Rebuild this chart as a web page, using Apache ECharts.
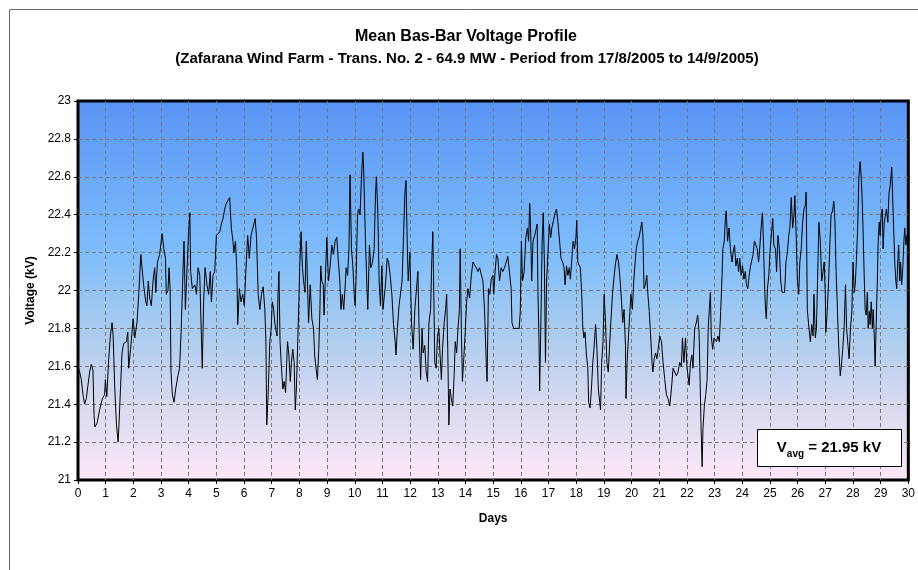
<!DOCTYPE html>
<html>
<head>
<meta charset="utf-8">
<script src="https://cdn.jsdelivr.net/npm/echarts@6/dist/echarts.min.js"></script>
<style>
  html, body { margin: 0; padding: 0; background: #fff; }
  #chart { width: 918px; height: 570px; }
</style>
</head>
<body>
<div id="chart"></div>
<script>
// readings: day of period, bus-bar voltage (kV)
var days = [
  0.00,0.06,0.12,0.18,0.24,0.30,0.36,0.42,0.48,0.54,0.58,0.61,0.69,0.78,0.88,0.96,0.99,1.04,1.11,1.17,
  1.23,1.27,1.33,1.39,1.45,1.48,1.54,1.59,1.65,1.75,1.80,1.83,1.90,1.99,2.05,2.13,2.20,2.27,2.33,2.37,
  2.45,2.49,2.54,2.59,2.65,2.71,2.77,2.81,2.87,2.95,3.04,3.10,3.16,3.19,3.25,3.29,3.33,3.36,3.41,3.47,
  3.53,3.61,3.67,3.73,3.80,3.83,3.88,3.94,3.99,4.04,4.07,4.13,4.22,4.28,4.34,4.40,4.45,4.49,4.54,4.59,
  4.66,4.72,4.78,4.82,4.88,4.94,5.00,
  5.06,5.12,5.18,5.24,5.30,5.36,5.42,5.48,5.54,5.60,5.63,5.69,5.74,5.77,5.83,5.89,5.95,6.01,6.07,6.13,
  6.19,6.25,6.31,6.37,6.40,6.45,6.51,6.57,6.63,6.69,6.75,6.79,6.82,6.87,6.93,6.98,7.02,7.07,7.11,7.14,
  7.19,7.23,7.26,7.30,7.36,7.40,7.45,7.50,7.54,7.57,7.62,7.67,7.71,7.76,7.81,7.85,7.89,7.94,7.98,8.01,
  8.06,8.11,8.15,8.20,8.25,8.29,8.33,8.39,8.45,8.51,8.55,8.60,8.65,8.70,8.74,8.77,8.81,8.86,8.89,8.94,
  8.99,9.05,9.11,9.17,9.23,9.29,9.35,9.40,9.46,9.50,9.55,9.60,9.64,9.69,9.74,9.79,9.83,9.88,9.93,9.98,
  10.01,10.05,10.10,10.14,10.19,10.24,10.29,10.32,
  10.38,10.44,10.47,10.53,10.58,10.64,10.70,10.75,10.78,10.83,10.88,10.93,10.98,11.02,11.07,11.12,11.17,11.22,11.28,11.34,
  11.40,11.46,11.49,11.54,11.60,11.65,11.71,11.77,11.81,11.85,11.90,11.93,11.99,12.05,12.11,12.17,12.23,12.28,12.33,12.38,
  12.43,12.47,12.53,12.58,12.63,12.68,12.74,12.78,12.82,12.86,12.89,12.94,12.99,13.04,13.08,13.13,13.17,13.23,13.28,13.32,
  13.36,13.40,13.44,13.49,13.54,13.59,13.63,13.68,13.73,13.78,13.81,13.85,13.89,13.93,13.99,14.04,14.09,14.15,14.21,14.27,
  14.33,14.39,14.45,14.51,14.57,14.63,14.69,14.75,14.78,14.83,14.88,14.93,14.99,15.02,15.07,15.12,15.17,15.23,15.29,15.35,
  15.41,15.47,15.53,15.59,15.65,15.68,15.74,
  15.86,15.94,15.98,16.02,16.06,16.12,16.18,16.24,16.28,16.32,16.36,16.39,16.44,16.50,16.55,16.59,16.62,16.66,16.68,16.72,
  16.77,16.81,16.85,16.89,16.93,16.98,17.03,17.08,17.12,17.18,17.24,17.29,17.34,17.40,17.45,17.51,17.56,17.60,17.65,17.70,
  17.75,17.79,17.84,17.89,17.94,17.99,18.02,18.06,18.11,18.15,18.20,18.24,18.28,18.32,18.37,18.42,18.45,18.50,18.55,18.60,
  18.64,18.70,18.75,18.80,18.85,18.88,18.92,18.97,19.01,19.06,19.11,19.16,19.20,19.25,19.31,19.36,19.41,19.47,19.53,19.59,
  19.64,19.68,19.73,19.78,19.80,19.84,19.89,19.94,19.98,20.03,20.08,20.13,20.17,20.22,20.27,20.32,20.37,20.41,20.45,20.50,
  20.55,20.59,20.64,20.69,20.74,20.77,20.82,20.87,20.92,20.96,
  21.02,21.08,21.14,21.20,21.26,21.32,21.38,21.44,21.50,21.56,21.62,21.68,21.74,21.80,21.84,21.89,21.95,22.00,22.04,22.08,
  22.13,22.18,22.22,22.28,22.34,22.39,22.44,22.47,22.51,22.55,22.58,22.63,22.68,22.73,22.77,22.81,22.85,22.88,22.93,22.98,
  23.03,23.07,23.12,23.17,23.22,23.27,23.30,23.35,23.39,23.42,23.47,23.52,23.57,23.63,23.67,23.72,23.77,23.82,23.87,23.91,
  23.96,24.01,24.06,24.11,24.15,24.20,24.25,24.30,24.35,24.39,24.44,24.49,24.54,24.59,24.64,24.68,24.73,24.77,24.80,24.84,
  24.87,24.91,24.96,25.00,25.05,25.10,25.14,25.20,25.24,25.29,25.34,25.39,25.44,25.48,25.53,25.58,25.63,25.68,25.72,25.77,
  25.82,25.87,25.90,25.94,25.99,26.04,26.08,26.13,26.18,26.23,26.28,26.31,
  26.35,26.41,26.46,26.51,26.56,26.59,26.64,26.68,26.73,26.77,26.82,26.87,26.92,26.96,27.00,27.02,27.07,27.12,27.17,27.21,
  27.26,27.31,27.35,27.39,27.43,27.46,27.50,27.54,27.58,27.63,27.68,27.73,27.77,27.82,27.86,27.91,27.96,28.00,28.05,28.09,
  28.12,28.17,28.21,28.26,28.30,28.34,28.37,28.41,28.44,28.48,28.52,28.55,28.59,28.62,28.66,28.70,28.73,28.77,28.80,28.84,
  28.88,28.91,28.95,28.98,29.02,29.06,29.09,29.13,29.16,29.21,29.26,29.30,29.35,29.40,29.43,29.47,29.51,29.55,29.58,29.62,
  29.65,29.69,29.72,29.76,29.80,29.84,29.87,29.91,29.95,30.00
];
var volts = [
  21.59,21.57,21.53,21.45,21.40,21.43,21.42,21.57,21.61,21.58,21.34,21.28,21.30,21.37,21.43,21.45,21.53,21.44,21.64,21.76,
  21.83,21.76,21.48,21.29,21.20,21.29,21.50,21.67,21.72,21.73,21.78,21.59,21.69,21.85,21.75,21.83,21.99,22.19,22.19,22.03,
  21.94,21.92,22.05,21.96,21.92,22.05,22.12,21.99,22.15,22.19,22.30,22.22,22.17,21.98,22.00,22.12,22.00,21.57,21.45,21.41,
  21.48,21.55,21.59,21.80,22.13,22.26,21.90,22.12,22.29,22.41,22.10,22.01,22.03,21.98,22.12,22.08,21.80,21.59,21.94,22.12,
  22.03,21.98,22.10,21.94,22.08,22.10,22.29,
  22.30,22.31,22.35,22.38,22.43,22.46,22.47,22.49,22.33,22.26,22.20,22.26,22.10,21.82,22.01,21.94,21.98,21.92,22.12,22.29,
  22.17,22.29,22.28,22.36,22.38,22.28,21.98,21.90,21.98,22.02,21.90,21.73,21.29,21.45,21.73,21.80,21.94,21.90,21.83,21.80,
  21.76,21.99,22.10,21.73,21.57,21.48,21.52,21.46,21.62,21.73,21.66,21.52,21.62,21.69,21.62,21.37,21.48,21.73,21.94,22.12,
  22.31,22.12,22.05,21.99,22.26,22.05,21.83,22.03,21.85,21.80,21.66,21.59,21.53,21.69,21.90,22.13,22.05,22.03,21.87,22.08,
  22.28,22.05,22.13,22.24,22.19,22.26,22.28,22.17,22.05,21.90,21.98,21.90,21.99,22.12,22.08,22.22,22.61,22.22,22.13,21.98,
  21.92,22.08,22.40,22.43,22.40,22.59,22.73,22.65,
  22.29,22.01,21.90,22.24,22.12,22.15,22.22,22.51,22.60,22.43,22.05,21.92,22.13,21.90,21.89,22.05,22.17,22.15,22.08,21.98,
  21.82,21.73,21.66,21.80,21.92,21.98,22.05,22.06,22.51,22.58,22.22,22.05,22.20,21.83,21.69,21.90,21.89,22.10,21.76,21.53,
  21.80,21.67,21.71,21.57,21.52,21.83,21.90,22.15,22.31,21.94,21.62,21.59,21.76,21.80,21.66,21.53,21.69,21.83,21.90,21.98,
  21.69,21.29,21.48,21.43,21.39,21.55,21.73,21.67,21.80,21.90,22.22,21.80,21.52,21.62,21.78,21.94,22.01,21.96,22.08,22.15,
  22.16,22.12,22.10,22.12,22.13,22.05,21.89,21.62,21.52,22.01,21.98,22.06,22.08,21.98,22.10,22.19,22.17,22.05,22.12,22.10,
  22.12,22.15,22.18,22.17,22.01,21.83,21.80,
  21.80,21.80,21.89,22.26,22.05,22.10,22.28,22.33,22.26,22.46,22.29,22.05,22.26,22.29,22.28,22.35,21.98,21.71,21.47,21.80,
  22.26,22.41,22.15,21.62,22.05,22.20,22.35,22.28,22.33,22.37,22.41,22.43,22.36,22.26,22.17,22.15,22.12,22.03,22.13,22.08,
  22.12,22.06,22.07,22.26,22.22,22.28,22.37,22.15,22.15,22.12,21.98,21.80,21.75,21.78,21.66,21.59,21.41,21.38,21.48,21.62,
  21.69,21.82,21.69,21.48,21.41,21.37,21.62,21.73,21.98,21.83,21.62,21.57,21.69,21.83,21.98,22.06,22.13,22.19,22.15,22.05,
  21.94,21.83,21.90,21.71,21.43,21.62,21.76,21.89,21.98,21.90,22.05,22.15,22.22,22.26,22.28,22.29,22.36,22.29,22.01,22.03,
  22.08,21.98,21.89,21.76,21.62,21.57,21.64,21.67,21.64,21.69,
  21.76,21.73,21.62,21.53,21.45,21.43,21.39,21.48,21.59,21.60,21.55,21.57,21.62,21.60,21.75,21.62,21.75,21.60,21.55,21.50,
  21.62,21.66,21.59,21.80,21.83,21.87,21.78,21.57,21.29,21.07,21.27,21.39,21.45,21.53,21.80,21.90,21.99,21.76,21.69,21.75,
  21.76,21.73,21.76,21.73,21.89,22.08,22.22,22.26,22.38,22.42,22.26,22.33,22.22,22.15,22.20,22.24,22.13,22.17,22.10,22.17,
  22.08,22.13,22.06,22.10,22.03,22.01,22.08,22.13,22.13,22.19,22.26,22.24,22.22,22.15,22.24,22.33,22.41,22.24,22.05,21.90,
  21.85,22.01,22.08,22.20,22.29,22.38,22.24,22.22,22.10,22.29,22.22,22.05,21.99,21.98,21.99,22.15,22.20,22.29,22.33,22.49,
  22.33,22.40,22.50,22.33,22.06,21.98,22.15,22.22,22.36,22.43,22.45,22.52,
  21.90,21.80,21.73,21.82,21.76,21.98,21.75,21.80,22.12,22.36,22.26,22.05,22.10,22.15,21.98,21.78,21.89,22.05,22.26,22.40,
  22.42,22.47,22.36,22.10,21.94,21.80,21.66,21.55,21.60,21.69,21.80,22.03,21.80,21.71,21.64,21.80,21.89,22.15,21.99,22.05,
  22.15,22.33,22.59,22.68,22.59,22.45,22.29,22.05,21.90,21.87,21.99,21.80,21.89,21.82,21.94,21.80,21.90,21.76,21.60,21.83,
  22.05,22.26,22.36,22.29,22.40,22.43,22.22,22.36,22.35,22.43,22.36,22.51,22.56,22.65,22.51,22.33,22.15,22.05,22.01,22.15,
  22.24,22.05,22.15,22.03,22.12,22.26,22.33,22.24,22.29,22.28
];
var titleText = 'Mean Bas-Bar Voltage Profile';
var subText = '(Zafarana Wind Farm - Trans. No. 2 - 64.9 MW - Period from 17/8/2005 to 14/9/2005)';
var avgLabel = '21.95 kV';

var data = [];
for (var i = 0; i < days.length; i++) {
    data.push([days[i], volts[i]]);
}

var chart = echarts.init(document.getElementById('chart'));
var font = 'Arial, "Liberation Sans", sans-serif';
var dashed = {show: true, showMinLine: false, showMaxLine: false,
              lineStyle: {color: '#7a7a7a', type: [4, 3], width: 1}};

var option = {
    animation: false,
    backgroundColor: '#fff',
    grid: {
        left: 78, top: 101, width: 835, height: 379,
        show: true,
        borderColor: '#000',
        borderWidth: 3,
        backgroundColor: {
            type: 'linear', x: 0, y: 0, x2: 0, y2: 1,
            colorStops: [
                {offset: 0, color: '#5894f5'},
                {offset: 0.4, color: '#7ebdfb'},
                {offset: 0.6, color: '#a8cbef'},
                {offset: 0.8, color: '#d9daf0'},
                {offset: 1, color: '#fde8f8'}
            ]
        }
    },
    xAxis: {
        type: 'value',
        min: 0, max: 30, interval: 1,
        name: 'Days',
        nameLocation: 'middle',
        nameGap: 33,
        nameTextStyle: {fontFamily: font, fontWeight: 'bold', fontSize: 12, color: '#000'},
        axisLine: {lineStyle: {color: '#000', width: 1}},
        axisTick: {show: true, length: 4, lineStyle: {color: '#000'}},
        axisLabel: {fontFamily: font, fontSize: 12, color: '#000', margin: 8},
        splitLine: dashed
    },
    yAxis: {
        type: 'value',
        min: 21, max: 23, interval: 0.2,
        name: 'Voltage (kV)',
        nameLocation: 'middle',
        nameRotate: 90,
        nameGap: 39,
        nameTextStyle: {fontFamily: font, fontWeight: 'bold', fontSize: 12, color: '#000'},
        axisLine: {show: true, lineStyle: {color: '#000', width: 1}},
        axisTick: {show: true, length: 4, lineStyle: {color: '#000'}},
        axisLabel: {fontFamily: font, fontSize: 12, color: '#000', margin: 7},
        splitLine: dashed
    },
    series: [{
        type: 'line',
        data: data,
        showSymbol: false,
        symbol: 'none',
        lineStyle: {color: '#000', width: 1},
        z: 5
    }],
    graphic: [
        {
            type: 'rect',
            shape: {x: 9.5, y: 9.5, width: 940, height: 600},
            style: {fill: 'none', stroke: '#6e6e6e', lineWidth: 1},
            silent: true
        },
        {
            type: 'text', x: 466, y: 37,
            style: {text: titleText, font: 'bold 16px ' + font, fill: '#000', textAlign: 'center', textVerticalAlign: 'middle'}
        },
        {
            type: 'text', x: 467, y: 59,
            style: {text: subText, font: 'bold 15px ' + font, fill: '#000', textAlign: 'center', textVerticalAlign: 'middle'}
        },
        {
            type: 'rect',
            shape: {x: 757.5, y: 429.5, width: 144, height: 37},
            style: {fill: '#fff', stroke: '#000', lineWidth: 1},
            z: 100
        },
        {
            type: 'text', x: 829, y: 448, z: 101,
            style: {
                text: '{a|V}{s|avg}{a| = ' + avgLabel + '}',
                textAlign: 'center',
                textVerticalAlign: 'middle',
                rich: {
                    a: {fontFamily: font, fontSize: 15, fontWeight: 'bold', color: '#000', lineHeight: 22, verticalAlign: 'middle'},
                    s: {fontFamily: font, fontSize: 10, fontWeight: 'bold', color: '#000', lineHeight: 10, verticalAlign: 'bottom'}
                }
            }
        }
    ]
};
chart.setOption(option);
window.onresize = function () {
    chart.resize();
};
</script>
</body>
</html>
